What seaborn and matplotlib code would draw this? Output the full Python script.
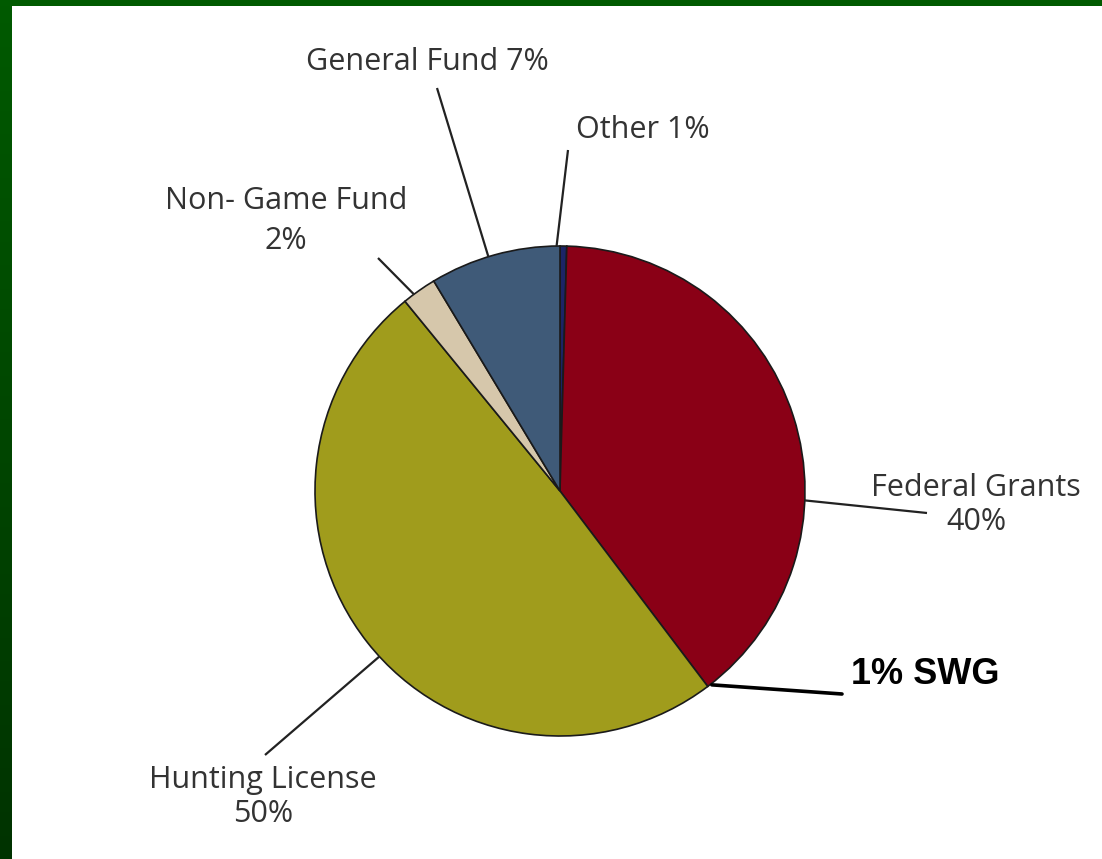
import numpy as np
import matplotlib
matplotlib.use("Agg")
import matplotlib.pyplot as plt
import seaborn as sns

# slice shares as drawn (clockwise from 12 o'clock), labels as printed
sources = ["Other", "Federal Grants", "Hunting License", "Non- Game Fund", "General Fund"]
shares = [0.44, 39.1, 49.2, 2.28, 8.58]
colors = ["#1c2466", "#8a0016", "#a09c1c", "#d6c7ab", "#3f5a78"]
labels = ["Other 1%", "Federal Grants\n40%", "Hunting License\n50%", "Non- Game Fund\n2%", "General Fund 7%"]

sns.set_theme(style="white")
plt.rcParams["font.family"] = ["Open Sans", "DejaVu Sans"]

W, H = 1102, 859
fig = plt.figure(figsize=(W / 100, H / 100), dpi=100)
fig.patch.set_facecolor("white")

# green slide frame (left and top strips)
grad = np.linspace(0, 1, 256).reshape(-1, 1)
cmap = matplotlib.colors.LinearSegmentedColormap.from_list("g", ["#005a00", "#003300"])
left = fig.add_axes([0, 0, 12 / W, 1])
left.imshow(grad, aspect="auto", cmap=cmap)
left.axis("off")
top = fig.add_axes([0, 1 - 6 / H, 1, 6 / H])
top.set_facecolor("#005a00")
top.set_xticks([])
top.set_yticks([])
for s in top.spines.values():
    s.set_visible(False)

ax = fig.add_axes([12 / W, 0, 1 - 12 / W, 1 - 6 / H])

cx, cy, r = 560, H - 491, 245
wedges, _ = ax.pie(shares, colors=colors, startangle=90, counterclock=False,
                   center=(cx, cy), radius=r, frame=True,
                   wedgeprops=dict(edgecolor="#1a1a1a", linewidth=1.2))
ax.set_xlim(12, W)
ax.set_ylim(0, H - 6)
ax.set_aspect("equal")
ax.axis("off")

txt = "#333333"
# (angle on rim in degrees, end of leader, text position, linespacing)
callouts = [
    (90.8, (568, 150), (643, 130), 1.2),
    (-2.2, (927, 513), (976, 505), 1.2),
    (-137.5, (265, 755), (263, 797), 1.15),
    (126.6, (378, 258), (286, 221), 1.4),
    (107.0, (437, 88), (427, 62), 1.2),
]
for lab, (ang, end, pos, ls) in zip(labels, callouts):
    a = np.deg2rad(ang)
    x0, y0 = cx + r * np.cos(a), cy + r * np.sin(a)
    ax.plot([x0, end[0]], [y0, H - end[1]], color="#222222", lw=1.6,
            solid_capstyle="butt")
    ax.text(pos[0], H - pos[1], lab, ha="center", va="center", fontsize=22,
            color=txt, linespacing=ls)

# extra call-out for the state wildlife grant share
a = np.deg2rad(-52.3)
ax.plot([cx + r * np.cos(a) + 2, 842], [cy + r * np.sin(a), H - 694],
        color="black", lw=2.6)
ax.text(851, H - 674, "1% SWG", ha="left", va="center", fontsize=26,
        fontweight="bold", color="black", family=["Liberation Sans", "DejaVu Sans"])

fig.savefig("out.png", dpi=100)
